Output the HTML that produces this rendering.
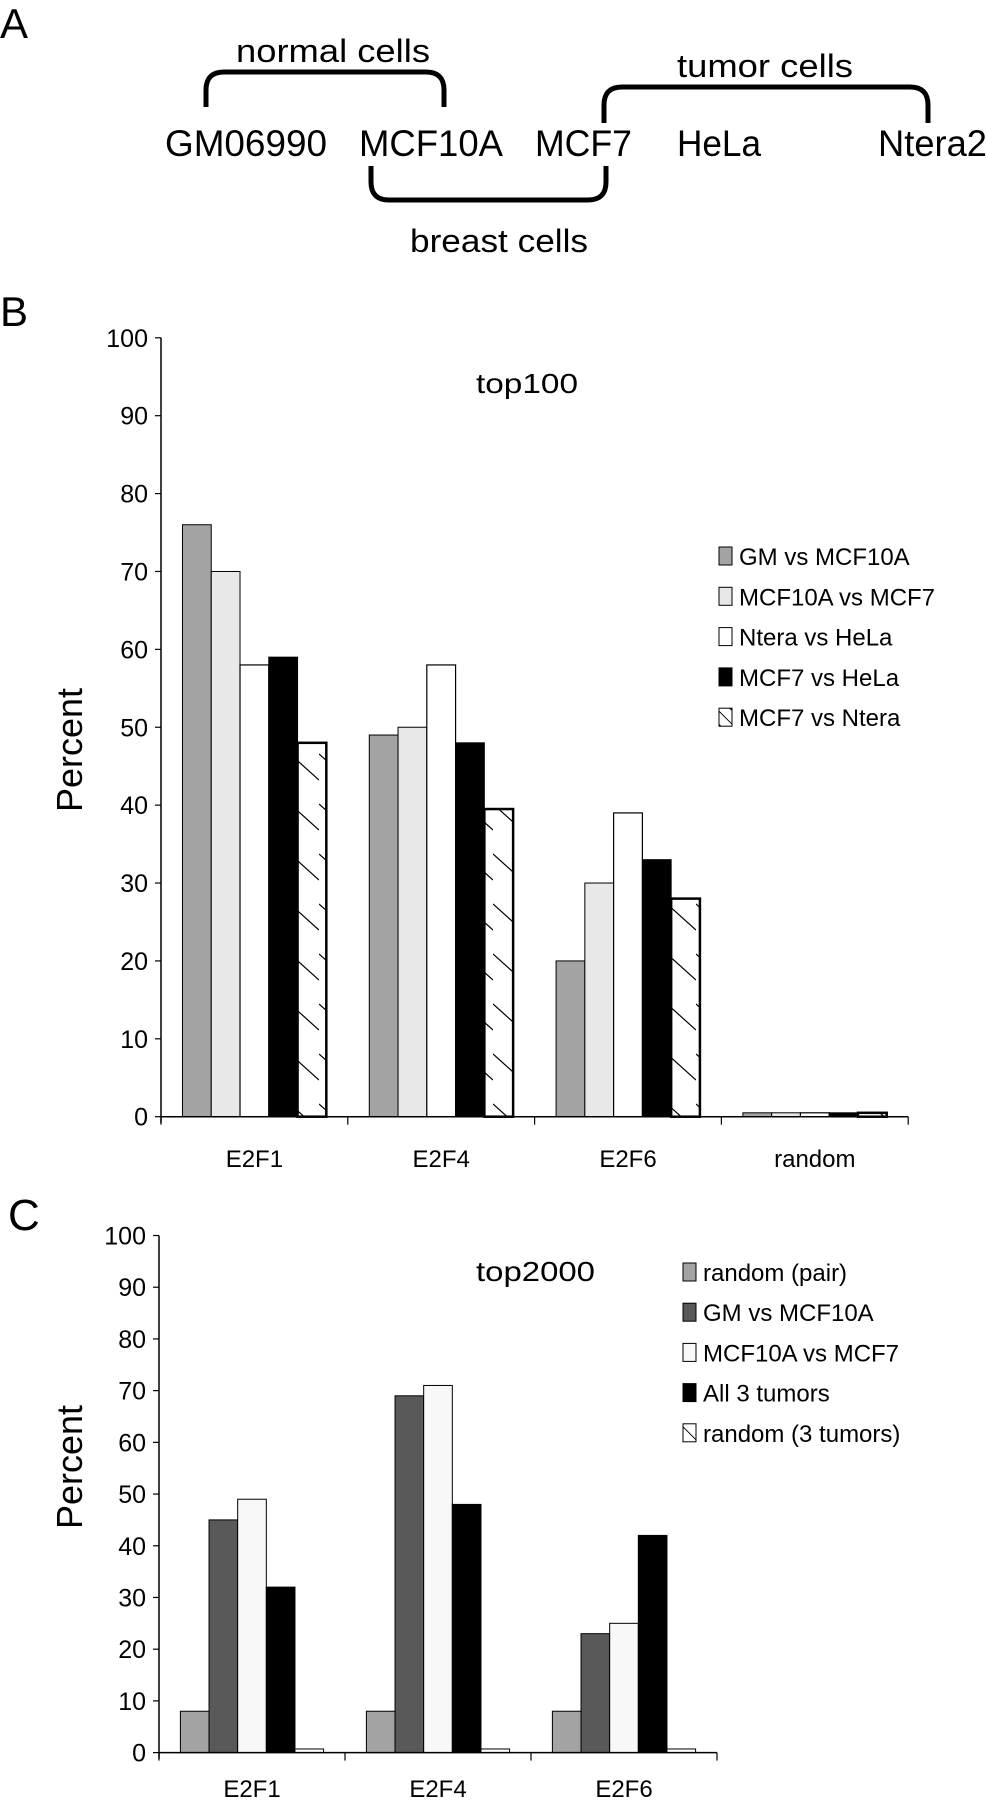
<!DOCTYPE html>
<html><head><meta charset="utf-8"><style>
html,body{margin:0;padding:0;background:#fff}
svg{display:block}
text{font-family:"Liberation Sans",sans-serif;fill:#000}
</style></head><body>
<svg id="fig" width="987" height="1800" viewBox="0 0 987 1800" xmlns="http://www.w3.org/2000/svg">
<defs>
<pattern id="hatch" patternUnits="userSpaceOnUse" width="29" height="50">
<line x1="0" y1="4" x2="29" y2="30" stroke="#000" stroke-width="1.2"/>
</pattern>
</defs>
<g>
<text x="0" y="38" font-size="42">A</text>
<text x="236" y="62" font-size="32" textLength="194" lengthAdjust="spacingAndGlyphs">normal cells</text>
<text x="677" y="77" font-size="32" textLength="176" lengthAdjust="spacingAndGlyphs">tumor cells</text>
<text x="410" y="252" font-size="32" textLength="178" lengthAdjust="spacingAndGlyphs">breast cells</text>
<text x="165" y="156" font-size="37" textLength="162" lengthAdjust="spacingAndGlyphs">GM06990</text>
<text x="359" y="156" font-size="37" textLength="144" lengthAdjust="spacingAndGlyphs">MCF10A</text>
<text x="535" y="156" font-size="37" textLength="97" lengthAdjust="spacingAndGlyphs">MCF7</text>
<text x="677" y="156" font-size="37" textLength="84" lengthAdjust="spacingAndGlyphs">HeLa</text>
<text x="878" y="156" font-size="37" textLength="109" lengthAdjust="spacingAndGlyphs">Ntera2</text>
<path d="M206 107 L206 90 Q206 72 224 72 L426 72 Q444 72 444 90 L444 107" fill="none" stroke="#000" stroke-width="5"/>
<path d="M604 123 L604 105 Q604 87 622 87 L910 87 Q928 87 928 105 L928 123" fill="none" stroke="#000" stroke-width="5"/>
<path d="M371 166 L371 182 Q371 200 389 200 L588 200 Q606 200 606 182 L606 166" fill="none" stroke="#000" stroke-width="5"/>
</g>
<text x="0" y="326" font-size="42">B</text>
<text x="8" y="1230" font-size="44">C</text>
<g id="chartB"></g>
<g id="chartC"></g>
</svg>
<script>
// Panel B data
const catsB = ["E2F1", "E2F4", "E2F6", "random"];
const seriesNamesB = ["GM vs MCF10A", "MCF10A vs MCF7", "Ntera vs HeLa", "MCF7 vs HeLa", "MCF7 vs Ntera"];
const gmVsMcf10aB = [76, 49, 20, 0.5];
const mcf10aVsMcf7B = [70, 50, 30, 0.5];
const nteraVsHelaB = [58, 58, 39, 0.5];
const mcf7VsHelaB = [59, 48, 33, 0.5];
const mcf7VsNteraB = [48, 39.5, 28, 0.5];
const yTicksB = [0, 10, 20, 30, 40, 50, 60, 70, 80, 90, 100];
// Panel C data
const catsC = ["E2F1", "E2F4", "E2F6"];
const seriesNamesC = ["random (pair)", "GM vs MCF10A", "MCF10A vs MCF7", "All 3 tumors", "random (3 tumors)"];
const randomPairC = [8, 8, 8];
const gmVsMcf10aC = [45, 69, 23];
const mcf10aVsMcf7C = [49, 71, 25];
const all3TumorsC = [32, 48, 42];
const random3TumorsC = [0.7, 0.7, 0.7];
const yTicksC = [0, 10, 20, 30, 40, 50, 60, 70, 80, 90, 100];

const NS = "http://www.w3.org/2000/svg";
function mk(parent, tag, attrs, txt) {
  const e = document.createElementNS(NS, tag);
  for (const k in attrs) e.setAttribute(k, attrs[k]);
  if (txt !== undefined) e.textContent = txt;
  parent.appendChild(e);
  return e;
}
function drawChart(g, o) {
  const y = v => o.y0 - (v / 100) * (o.y0 - o.y100);
  const catW = o.catW, barW = catW * 0.154, pad = (catW - barW * 5) / 2;
  o.series.forEach((vals, si) => {
    vals.forEach((v, ci) => {
      const x = o.x0 + ci * catW + pad + si * barW;
      const r = mk(g, "rect", {x: x, y: y(v), width: barW, height: o.y0 - y(v), fill: o.fills[si], stroke: "#000", "stroke-width": o.sw[si]});
      
      
    });
  });
  const ya = mk(g, "line", {x1: o.x0, y1: o.y100, x2: o.x0, y2: o.y0 + 6, stroke: "#000", "stroke-width": 1.5});
  
  
  const xEnd = o.x0 + catW * o.cats.length;
  const xa = mk(g, "line", {x1: o.x0, y1: o.y0, x2: xEnd, y2: o.y0, stroke: "#000", "stroke-width": 1.5});
  
  
  o.ticks.forEach(t => {
    const l = mk(g, "line", {x1: o.x0 - 6, y1: y(t), x2: o.x0, y2: y(t), stroke: "#000", "stroke-width": 1.2});
    
    
    const tx = mk(g, "text", {x: o.x0 - 13, y: y(t) + 9, "font-size": 25, "text-anchor": "end"}, String(t));
    
    
  });
  for (let i = 0; i <= o.cats.length; i++) {
    const l = mk(g, "line", {x1: o.x0 + i * catW, y1: o.y0, x2: o.x0 + i * catW, y2: o.y0 + 8, stroke: "#000", "stroke-width": 1.2});
    
    
  }
  o.cats.forEach((c, i) => {
    const t = mk(g, "text", {x: o.x0 + (i + 0.5) * catW, y: o.catY, "font-size": 24, "text-anchor": "middle"}, c);
    
    
  });
  const yt = mk(g, "text", {x: 0, y: 0, "font-size": 36, "text-anchor": "middle", transform: "translate(82," + o.yTitleY + ") rotate(-90)"}, "Percent");
  
  
  const tt = mk(g, "text", {x: o.titleX, y: o.titleY, "font-size": 28, textLength: o.titleW, lengthAdjust: "spacingAndGlyphs"}, o.title);
  
  
  o.names.forEach((n, i) => {
    const ly = o.legY + i * o.legDy;
    const sq = mk(g, "rect", {x: o.legX, y: ly - 9, width: 13, height: 18, fill: o.fills[i], stroke: "#000", "stroke-width": 1});
    
    
    if (o.legHatch[i]) {
      const hl = mk(g, "line", {x1: o.legX, y1: ly - 6, x2: o.legX + 13, y2: ly + 7, stroke: "#000", "stroke-width": 1});
      
      
    }
    const t = mk(g, "text", {x: o.legX + 20, y: ly + 9, "font-size": 24}, n);
    
    
  });
}
drawChart(document.getElementById("chartB"), {
  x0: 161, y0: 1116.7, y100: 337.8, catW: 186.8, cats: catsB,
  series: [gmVsMcf10aB, mcf10aVsMcf7B, nteraVsHelaB, mcf7VsHelaB, mcf7VsNteraB],
  fills: ["#a3a3a3", "#e8e8e8", "#ffffff", "#000000", "url(#hatch)"],
  sw: [1, 1, 1.2, 1, 2.5],
  ticks: yTicksB, catY: 1167, yTitleY: 750, title: "top100", titleX: 476, titleW: 102, titleY: 393,
  names: seriesNamesB, legX: 719, legY: 556, legDy: 40.3, legHatch: [0, 0, 0, 0, 1]
});
drawChart(document.getElementById("chartC"), {
  x0: 159, y0: 1752.6, y100: 1235.5, catW: 186, cats: catsC,
  series: [randomPairC, gmVsMcf10aC, mcf10aVsMcf7C, all3TumorsC, random3TumorsC],
  fills: ["#a3a3a3", "#595959", "#f8f8f8", "#000000", "#ffffff"],
  sw: [1, 1, 1, 1, 1],
  ticks: yTicksC, catY: 1797, yTitleY: 1467, title: "top2000", titleX: 476, titleW: 119, titleY: 1281,
  names: seriesNamesC, legX: 683, legY: 1272, legDy: 40.2, legHatch: [0, 0, 0, 0, 1]
});
</script>
</body></html>
